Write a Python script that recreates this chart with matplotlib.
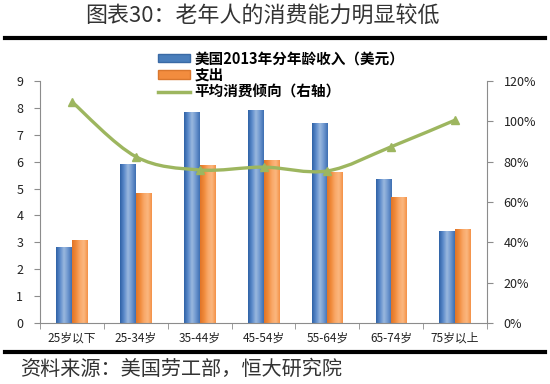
import numpy as np
import matplotlib
matplotlib.use("Agg")
import matplotlib.pyplot as plt
from matplotlib.path import Path
from matplotlib.patches import PathPatch, Patch
from matplotlib.lines import Line2D
from matplotlib.colors import LinearSegmentedColormap

plt.rcParams['font.family'] = ['Noto Sans CJK SC', 'DejaVu Sans']

categories = ["25岁以下", "25-34岁", "35-44岁", "45-54岁", "55-64岁", "65-74岁", "75岁以上"]
income = [2.83, 5.93, 7.85, 7.92, 7.42, 5.37, 3.44]
spending = [3.07, 4.85, 5.89, 6.08, 5.60, 4.70, 3.48]
propensity = [109.7, 82.5, 75.9, 77.3, 75.4, 87.4, 100.6]
left_ticks = [0, 1, 2, 3, 4, 5, 6, 7, 8, 9]
right_ticks = [0, 20, 40, 60, 80, 100, 120]

title = "图表30：老年人的消费能力明显较低"
source = "资料来源：美国劳工部，恒大研究院"
legend_labels = ["美国2013年分年龄收入（美元）", "支出", "平均消费倾向（右轴）"]

BLUE = "#4A7EBB"
ORANGE = "#F28C3E"
GREEN = "#9DB65F"
AXC = "#8C8C8C"

blue_cmap = LinearSegmentedColormap.from_list("b", ["#2F62A6", "#5B8ACA", "#9AB8DE", "#6E97CF", "#3E6FB2"])
orange_cmap = LinearSegmentedColormap.from_list("o", ["#E07428", "#F08A3A", "#F9A868", "#FBB77F", "#F49248"])

fig = plt.figure(figsize=(5.5, 3.84), dpi=100)
W, H = 550, 384
ax = fig.add_axes([40 / W, 1 - 323 / H, (487 - 40) / W, (323 - 81) / H])
ax2 = ax.twinx()

x = np.arange(len(categories))
bw = 0.245
b1 = ax.bar(x - bw / 2, income, bw, color=BLUE, edgecolor="none", zorder=2)
b2 = ax.bar(x + bw / 2, spending, bw, color=ORANGE, edgecolor="none", zorder=2)

grad = np.linspace(0, 1, 64).reshape(1, -1)
for bars, cmap in ((b1, blue_cmap), (b2, orange_cmap)):
    for r in bars:
        x0, y0 = r.get_x(), r.get_y()
        w, h = r.get_width(), r.get_height()
        im = ax.imshow(grad, cmap=cmap, aspect="auto", extent=(x0, x0 + w, y0, y0 + h),
                       zorder=2.5, interpolation="bilinear")
        im.set_clip_path(r)

ax.set_xlim(-0.5, len(categories) - 0.5)
ax.set_ylim(0, 9)
ax.set_yticks(left_ticks)
ax.set_xticks(x)
ax.set_xticklabels(categories, fontsize=8.5, color="#222222")
ax.set_xticks(np.arange(len(categories) + 1) - 0.5, minor=True)
ax.tick_params(axis='x', which='major', length=0, pad=6)
ax.tick_params(axis='x', which='minor', length=4, color=AXC, direction='out')
ax.tick_params(axis='y', length=4, color=AXC, labelsize=9, labelcolor="#222222", pad=8)
for s in ["top", "right"]:
    ax.spines[s].set_visible(False)
ax.spines["left"].set_color(AXC)
ax.spines["bottom"].set_color(AXC)

ax2.set_ylim(0, 120)
ax2.set_yticks(right_ticks)
ax2.set_yticklabels([f"{v}%" for v in right_ticks])
ax2.tick_params(axis='y', length=4, color=AXC, labelsize=9, labelcolor="#222222", pad=8)
for s in ["top", "left", "bottom"]:
    ax2.spines[s].set_visible(False)
ax2.spines["right"].set_color(AXC)

# smooth line (Bezier through data points, Catmull-Rom style control points)
px = x.astype(float)
py = np.array(propensity, dtype=float)
verts = [(px[0], py[0])]
codes = [Path.MOVETO]
n = len(px)
for i in range(n - 1):
    p0 = np.array([px[max(i - 1, 0)], py[max(i - 1, 0)]])
    p1 = np.array([px[i], py[i]])
    p2 = np.array([px[i + 1], py[i + 1]])
    p3 = np.array([px[min(i + 2, n - 1)], py[min(i + 2, n - 1)]])
    c1 = p1 + (p2 - p0) / 6.0
    c2 = p2 - (p3 - p1) / 6.0
    verts += [tuple(c1), tuple(c2), tuple(p2)]
    codes += [Path.CURVE4, Path.CURVE4, Path.CURVE4]
ax2.add_patch(PathPatch(Path(verts, codes), facecolor="none", edgecolor=GREEN, linewidth=2.4, zorder=3))
ax2.plot(px, py, linestyle="none", marker="^", markersize=6, color=GREEN, zorder=4)

# legend
handles = [Patch(facecolor=BLUE, edgecolor="#3A6AA5"),
           Patch(facecolor=ORANGE, edgecolor="#D9772E"),
           Line2D([0], [0], color=GREEN, lw=2.5, marker="_", markersize=6)]
leg = fig.legend(handles, legend_labels, loc="upper left", bbox_to_anchor=(148 / W, 1 - 40 / H),
                 frameon=False, handlelength=2.2, handleheight=0.55,
                 labelspacing=0.05, handletextpad=0.3, borderpad=0.2,
                 prop={'family': ['Noto Sans CJK SC', 'DejaVu Sans'], 'weight': 'bold', 'size': 10.5})

# title and rules
fig.text(262 / W, 1 - 17 / H, title, ha="center", va="center", fontsize=15.8, color="#333333")
fig.add_artist(Line2D([5 / W, 545 / W], [1 - 38 / H, 1 - 38 / H], color="black", lw=3))
fig.add_artist(Line2D([5 / W, 545 / W], [1 - 352 / H, 1 - 352 / H], color="black", lw=3))
fig.text(20 / W, 1 - 369 / H, source, ha="left", va="center", fontsize=14.5,
         color="#333333", style="italic")

fig.savefig("out.png", dpi=100, facecolor="white")
